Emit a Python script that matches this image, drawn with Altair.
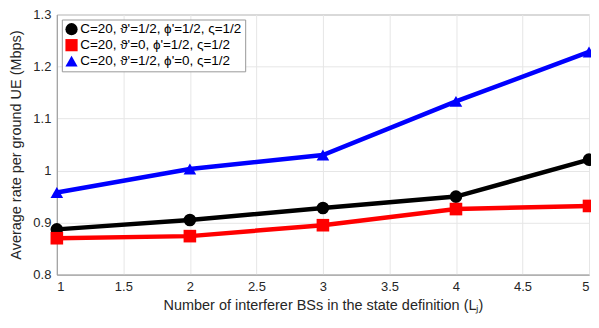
import altair as alt
import pandas as pd

x_vals = [1, 2, 3, 4, 5]
black_vals = [0.887, 0.905, 0.928, 0.950, 1.021]
red_vals = [0.870, 0.874, 0.895, 0.926, 0.932]
blue_vals = [0.958, 1.003, 1.030, 1.133, 1.228]
series_names = [
    "C=20, ϑ'=1/2, ϕ'=1/2, ς=1/2",
    "C=20, ϑ'=0, ϕ'=1/2, ς=1/2",
    "C=20, ϑ'=1/2, ϕ'=0, ς=1/2",
]
colors = ["#000000", "#ff0000", "#0000ff"]
shapes = ["circle", "square", "triangle-up"]
x_ticks = [1, 1.5, 2, 2.5, 3, 3.5, 4, 4.5, 5]
y_ticks = [0.8, 0.9, 1.0, 1.1, 1.2, 1.3]

rows = []
for name, vals in zip(series_names, [black_vals, red_vals, blue_vals]):
    for xv, yv in zip(x_vals, vals):
        rows.append({"L": xv, "rate": yv, "series": name})
df = pd.DataFrame(rows)

font = "Liberation Sans"
x_enc = alt.X("L:Q", scale=alt.Scale(domain=[1, 5], nice=False),
              axis=alt.Axis(values=x_ticks, format="~g",
                            title="Number of interferer BSs in the state definition (Lⱼ)"))
y_enc = alt.Y("rate:Q", scale=alt.Scale(domain=[0.8, 1.3], nice=False),
              axis=alt.Axis(values=y_ticks, format="~g",
                            title="Average rate per ground UE (Mbps)"))

base = alt.Chart(df)
line_layers = [
    base.transform_filter(alt.datum.series == name)
    .mark_line(strokeWidth=4.5, color=col)
    .encode(x=x_enc, y=y_enc)
    for name, col in zip(series_names, colors)
]

points = base.mark_point(filled=True, size=160, opacity=1).encode(
    x=x_enc, y=y_enc,
    fill=alt.Fill("series:N", scale=alt.Scale(domain=series_names, range=colors),
                  legend=alt.Legend(title=None, orient="top-left", offset=5)),
    shape=alt.Shape("series:N", scale=alt.Scale(domain=series_names, range=shapes)),
)

chart = alt.layer(*line_layers, points).properties(
    width=534, height=261,
    autosize=alt.AutoSizeParams(type="none"),
    padding={"left": 49, "top": 6, "right": 2, "bottom": 50},
).configure_axis(
    labelFont=font, titleFont=font, labelFontSize=13, titleFontSize=14.5,
    labelColor="#262626", titleColor="#262626", titleFontWeight="normal",
    domainColor="#9a9a9a", gridColor="#e6e6e6", ticks=False, labelPadding=6,
).configure_axisX(titlePadding=5).configure_axisY(titlePadding=9).configure_view(
    stroke="#9a9a9a", strokeWidth=1
).configure_legend(
    symbolSize=150, labelFontSize=13.5, labelFont=font, labelColor="#000000",
    strokeColor="#999999", fillColor="white", padding=3, rowPadding=1,
    symbolOpacity=1, symbolStrokeWidth=0, labelOffset=2, labelLimit=300,
)

chart.save("out.html", embed_options={"renderer": "svg", "actions": False})
